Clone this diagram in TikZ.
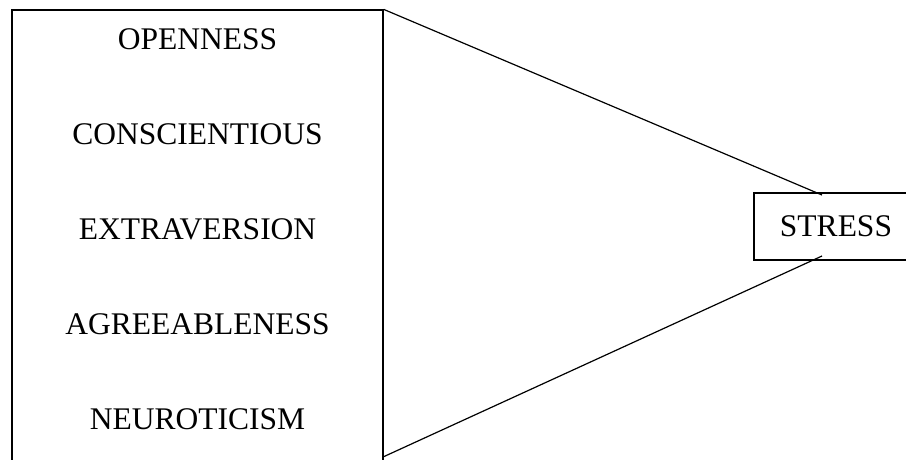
\documentclass[tikz,border=0pt]{standalone}
\usepackage{fontspec}
\setmainfont{Liberation Serif}
\begin{document}
\begin{tikzpicture}[x=1pt,y=-1pt,
  boxline/.style={draw=black,line width=1.3pt},
  lbl/.style={font=\fontsize{31.5}{36}\selectfont,anchor=base,inner sep=0pt}]
\useasboundingbox (0,0) rectangle (906,459);
\begin{scope}
\clip (0,0) rectangle (906,459);
\node[boxline,minimum width=371pt,minimum height=470pt,inner sep=0pt] (big) at (197.5,245) {};
\node[boxline,minimum width=164pt,minimum height=67pt,inner sep=0pt] (stress) at (836,226.5) {};
\end{scope}
\node[lbl] (o) at (197.5,49) {OPENNESS};
\node[lbl] (c) at (197.5,144) {CONSCIENTIOUS};
\node[lbl] (e) at (197.5,239) {EXTRAVERSION};
\node[lbl] (a) at (197.5,334) {AGREEABLENESS};
\node[lbl] (n) at (197.5,429) {NEUROTICISM};
\node[lbl,anchor=center] (st) at (836,226) {\vphantom{S}STRESS};
\coordinate (bt) at (big.north east);
\coordinate (bb) at (383,457);
\coordinate (s1) at (822,195);
\coordinate (s2) at (822,256);
\draw[line width=1.2pt] (bt) -- (s1);
\draw[line width=1.2pt] (bb) -- (s2);
\end{tikzpicture}
\end{document}
